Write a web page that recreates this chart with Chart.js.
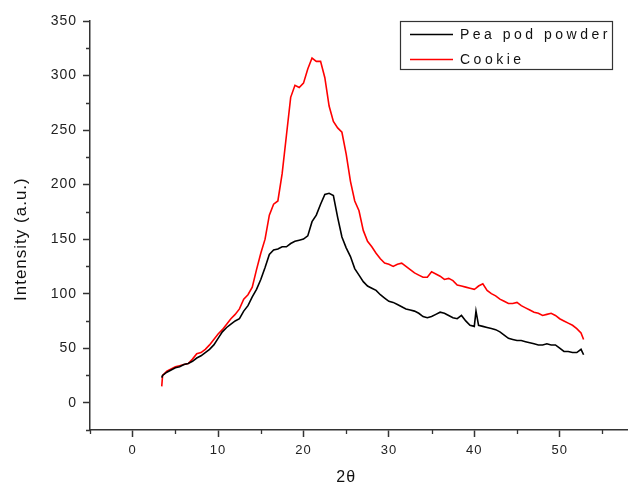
<!DOCTYPE html>
<html>
<head>
<meta charset="utf-8">
<script src="https://cdn.jsdelivr.net/npm/chart.js@4.4.0/dist/chart.umd.min.js"></script>
<style>
  html, body { margin: 0; padding: 0; background: #fff; }
  #wrap { width: 628px; height: 486px; position: relative; }
</style>
</head>
<body>
<div id="wrap"><canvas id="xrdChart"></canvas></div>
<script>
// 2-theta positions
var angles = [3.4, 3.5, 4.0, 4.5, 5.0, 5.5, 6.0, 6.5, 7.0, 7.5,
  8.0, 8.5, 9.0, 9.5, 10.0, 10.5, 11.0, 11.5, 12.0, 12.5,
  13.0, 13.5, 14.0, 14.5, 15.0, 15.5, 16.0, 16.5, 17.0, 17.5,
  18.0, 18.5, 19.0, 19.5, 20.0, 20.5, 21.0, 21.5, 22.0, 22.5,
  23.0, 23.5, 24.0, 24.5, 25.0, 25.5, 26.0, 26.5, 27.0, 27.5,
  28.0, 28.5, 29.0, 29.5, 30.0, 30.5, 31.0, 31.5, 32.0, 32.5,
  33.0, 33.5, 34.0, 34.5, 35.0, 35.5, 36.0, 36.5, 37.0, 37.5,
  38.0, 38.5, 39.0, 39.5, 40.0, 40.2, 40.5, 41.0, 41.5, 42.0,
  42.5, 43.0, 43.5, 44.0, 44.5, 45.0, 45.5, 46.0, 46.5, 47.0,
  47.5, 48.0, 48.5, 49.0, 49.5, 50.0, 50.5, 51.0, 51.5, 52.0,
  52.5, 52.8];

var peaPod = [23, 25, 28, 30, 32, 33, 35, 36, 38, 41,
  43, 46, 49, 53, 59, 65, 69, 72, 75, 77,
  84, 89, 97, 104, 113, 124, 136, 140, 141, 143,
  143, 146, 148, 149, 150, 153, 166, 172, 182, 191,
  192, 190, 170, 152, 142, 134, 123, 117, 111, 107,
  105, 103, 99, 96, 93, 92, 90, 88, 86, 85,
  84, 82, 79, 78, 79, 81, 83, 82, 80, 78,
  77, 80, 75, 71, 70, 84, 71, 70, 69, 68,
  67, 65, 62, 59, 58, 57, 57, 56, 55, 54,
  53, 53, 54, 53, 53, 50, 47, 47, 46, 46,
  49, 44];

var cookie = [15, 25, 29, 31, 33, 34, 35, 36, 40, 45,
  46, 49, 53, 58, 63, 67, 72, 77, 81, 86,
  95, 99, 106, 122, 137, 150, 172, 182, 185, 210,
  245, 280, 291, 289, 293, 306, 316, 313, 313, 298,
  272, 258, 252, 248, 228, 203, 185, 176, 158, 148,
  143, 137, 132, 128, 127, 125, 127, 128, 125, 122,
  119, 117, 115, 115, 120, 118, 116, 113, 114, 112,
  108, 107, 106, 105, 104, 105, 107, 109, 103, 100,
  98, 95, 93, 91, 91, 92, 89, 87, 85, 83,
  82, 80, 81, 82, 80, 77, 75, 73, 71, 68,
  64, 58];

var seriesNames = ["Pea pod powder", "Cookie"];
var seriesColors = ["#000000", "#ff0000"];

var xTicks = [0, 10, 20, 30, 40, 50];
var xMinor = [-5, 5, 15, 25, 35, 45, 55];
var yTicks = [0, 50, 100, 150, 200, 250, 300, 350];
var yMinor = [-25, 25, 75, 125, 175, 225, 275, 325];

var FONT = '"Liberation Sans", Arial, sans-serif';

function toPoints(vals) {
  return angles.map(function(a, i) { return { x: a, y: vals[i] }; });
}

// minor ticks, axis titles and the boxed legend
var axisDecor = {
  id: 'axisDecor',
  beforeDraw: function(chart) {
    chart.ctx.letterSpacing = '1px';
  },
  afterDraw: function(chart) {
    var ctx = chart.ctx;
    var xs = chart.scales.x, ys = chart.scales.y, area = chart.chartArea;
    ctx.save();
    ctx.strokeStyle = '#333';
    ctx.lineWidth = 1.3;
    ctx.beginPath();
    xMinor.forEach(function(v) {
      var px = Math.round(xs.getPixelForValue(v)) + 0.5;
      ctx.moveTo(px, area.bottom);
      ctx.lineTo(px, area.bottom + 4);
    });
    yMinor.forEach(function(v) {
      var py = Math.round(ys.getPixelForValue(v)) + 0.5;
      ctx.moveTo(area.left, py);
      ctx.lineTo(area.left - 4, py);
    });
    ctx.stroke();

    // axis titles
    ctx.fillStyle = '#111';
    ctx.textAlign = 'center';
    ctx.textBaseline = 'middle';
    ctx.letterSpacing = '1px';
    ctx.font = '16px ' + FONT;
    ctx.fillText('2\u03b8', xs.getPixelForValue(25), 478);
    ctx.save();
    ctx.translate(21, ys.getPixelForValue(150));
    ctx.rotate(-Math.PI / 2);
    ctx.font = '17px ' + FONT;
    ctx.fillText('Intensity (a.u.)', 0, 0);
    ctx.restore();

    // legend box
    ctx.fillStyle = '#fff';
    ctx.fillRect(400, 21, 212, 48);
    ctx.strokeStyle = '#333';
    ctx.lineWidth = 1.2;
    ctx.strokeRect(400.5, 21.5, 212, 48);
    ctx.font = '14px ' + FONT;
    ctx.letterSpacing = '3.5px';
    ctx.textAlign = 'left';
    chart.data.datasets.forEach(function(ds, i) {
      var y = 34 + i * 25;
      ctx.strokeStyle = ds.borderColor;
      ctx.lineWidth = 1.3;
      ctx.beginPath();
      ctx.moveTo(410, y + 0.5);
      ctx.lineTo(453, y + 0.5);
      ctx.stroke();
      ctx.fillStyle = '#111';
      ctx.fillText(ds.label, 460, y + 1);
    });
    ctx.restore();
  }
};

var ctx = document.getElementById('xrdChart');
var xrdChart = new Chart(ctx, {
  type: 'scatter',
  data: {
    datasets: [{
      label: seriesNames[0],
      data: toPoints(peaPod),
      borderColor: seriesColors[0],
      backgroundColor: seriesColors[0],
      borderWidth: 1.6,
      showLine: true,
      pointRadius: 0,
      tension: 0
    }, {
      label: seriesNames[1],
      data: toPoints(cookie),
      borderColor: seriesColors[1],
      backgroundColor: seriesColors[1],
      borderWidth: 1.6,
      showLine: true,
      pointRadius: 0,
      tension: 0
    }]
  },
  options: {
    responsive: true,
    maintainAspectRatio: false,
    animation: false,
    layout: { padding: { top: 21, right: 0, left: 0, bottom: 0 } },
    plugins: {
      legend: { display: false },
      tooltip: { enabled: false }
    },
    scales: {
      x: {
        type: 'linear',
        min: -5,
        max: 58,
        afterBuildTicks: function(scale) {
          scale.ticks = xTicks.map(function(v) { return { value: v }; });
        },
        afterFit: function(scale) { scale.height = 56; },
        border: { display: true, color: '#333', width: 1.5 },
        grid: { drawOnChartArea: false, drawTicks: true, tickLength: 7, tickColor: '#333', tickWidth: 1.5 },
        ticks: { color: '#222', padding: 6, maxRotation: 0, font: { family: FONT, size: 13 } }
      },
      y: {
        type: 'linear',
        min: -25,
        max: 350,
        afterBuildTicks: function(scale) {
          scale.ticks = yTicks.map(function(v) { return { value: v }; });
        },
        afterFit: function(scale) { scale.width = 90; },
        border: { display: true, color: '#333', width: 1.5 },
        grid: { drawOnChartArea: false, drawTicks: true, tickLength: 7, tickColor: '#333', tickWidth: 1.5 },
        ticks: { color: '#222', padding: 6, font: { family: FONT, size: 14 } }
      }
    }
  },
  plugins: [axisDecor]
});
</script>
</body>
</html>
